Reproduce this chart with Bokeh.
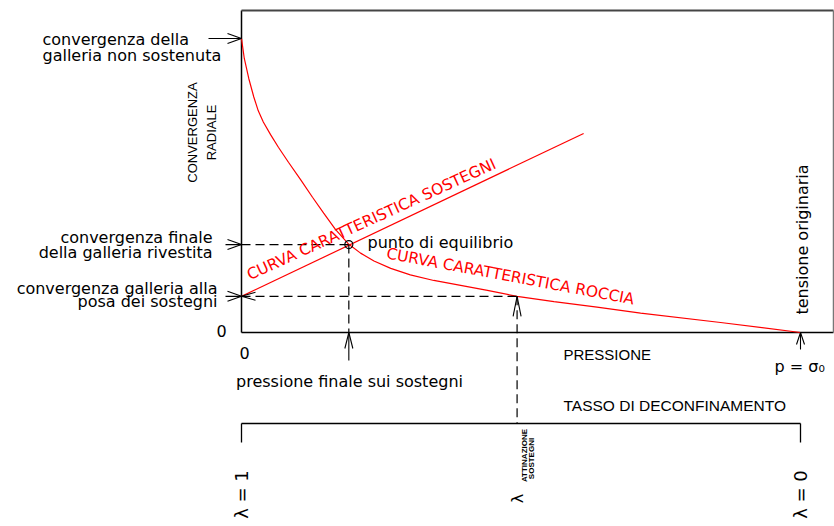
import math
from bokeh.plotting import figure
from bokeh.models import Range1d
from bokeh.core.properties import value
from bokeh.embed import file_html
from bokeh.resources import INLINE

# ---------------- data (normalised: pressure p/sigma0, convergence u/u_free) -------------
pressure_rock = [0.0, 0.005, 0.013, 0.022, 0.030, 0.039, 0.052, 0.066, 0.084, 0.106,
                 0.127, 0.147, 0.168, 0.192, 0.213, 0.237, 0.267, 0.302, 0.344, 0.392,
                 0.440, 0.493, 0.559, 0.636, 0.714, 0.857, 1.0]
convergence_rock = [1.0, 0.932, 0.864, 0.801, 0.754, 0.716, 0.673, 0.630, 0.579, 0.519,
                    0.460, 0.406, 0.351, 0.300, 0.270, 0.243, 0.218, 0.196, 0.177, 0.160,
                    0.143, 0.123, 0.105, 0.086, 0.066, 0.034, 0.0]
pressure_support = [0.0, 0.612]
convergence_support = [0.123, 0.677]
p_equilibrium = 0.192
u_equilibrium = 0.299
p_install = 0.493
u_install = 0.123
u_free = 1.0
p_sigma0 = 1.0
lambda_ticks = [1.0, 0.0]          # tasso di deconfinamento at the bracket ends
lambda_labels = ["λ = 1", "λ = 0"]

# ---------------- layout helpers (page pixels -> data) ----------------
W, H = 834, 526
SX, SY = 559.0, 294.0
OX, OY = 241.0, 332.0


def X(px):
    return (px - OX) / SX


def Y(py):
    return (OY - py) / SY


p = figure(width=W, height=H, output_backend="svg", toolbar_location=None,
           x_range=Range1d(X(0), X(W)), y_range=Range1d(Y(H), Y(0)),
           x_axis_type=None, y_axis_type=None, min_border=0,
           outline_line_color=None, background_fill_color="white",
           border_fill_color="white")
p.grid.visible = False

RED = "#ff0000"
BLK = "#000000"
DASH = "9 5"

# frame
x_right = X(833)
p.line([0, 0], [0, Y(10)], line_color=BLK, line_width=1.5)
p.line([0, x_right], [0, 0], line_color=BLK, line_width=1.5)
p.line([0, x_right], [Y(10), Y(10)], line_color="#444444", line_width=2)
p.line([x_right, x_right], [Y(10), 0], line_color="#777777", line_width=1.5)

# curves
p.line(pressure_rock, convergence_rock, line_color=RED, line_width=1.2)
p.line(pressure_support, convergence_support, line_color=RED, line_width=1.2)

# dashed construction lines
p.line([0, p_equilibrium], [u_equilibrium, u_equilibrium], line_color=BLK, line_dash=DASH, line_width=1.2)
p.line([p_equilibrium, p_equilibrium], [u_equilibrium, 0], line_color=BLK, line_dash=DASH, line_width=1.2)
p.line([0, p_install], [u_install, u_install], line_color=BLK, line_dash=DASH, line_width=1.2)
y_bracket = Y(423)
p.line([p_install, p_install], [u_install, y_bracket], line_color=BLK, line_dash=DASH, line_width=1.2)

# equilibrium point
p.scatter([p_equilibrium], [u_equilibrium], marker="circle", size=8,
          fill_color=None, line_color=BLK, line_width=1.2)

# arrows
xs, ys = [], []


def arrow(xt, yt, d, stem, hl=14, hw=4.5):
    dx, dy = d  # screen direction (x right, y down)
    px, py = -dy, dx

    def pt(a, b):
        return xt + a / SX, yt - b / SY
    if stem > 0:
        sx, sy = pt(-dx * stem, -dy * stem)
        xs.append([sx, xt]); ys.append([sy, yt])
    for s in (1, -1):
        wx, wy = pt(-dx * hl + s * px * hw, -dy * hl + s * py * hw)
        xs.append([wx, xt]); ys.append([wy, yt])


arrow(0, u_free, (1, 0), 33, 14, 5)
arrow(0, u_equilibrium, (1, 0), 16, 14, 5)
arrow(0, u_install, (1, 0), 16, 14, 5)
arrow(0, u_install, (-1, 0), 0, 14, 4)
arrow(p_equilibrium, 0, (0, -1), 28, 16, 4)
arrow(p_install, u_install, (0, -1), 0, 20, 4)
arrow(p_sigma0, 0, (0, -1), 17, 12, 4)
p.multi_line(xs, ys, line_color=BLK, line_width=1.1)

# bracket for tasso di deconfinamento (lambda = 1 - p/sigma0)
bx = [1 - l for l in lambda_ticks]
p.line([bx[0], bx[1]], [y_bracket, y_bracket], line_color=BLK, line_width=1.3)
for b in bx:
    p.line([b, b], [y_bracket, Y(442)], line_color=BLK, line_width=1.3)


# texts
def T(txt, xp, yp, size=16, align="left", angle=0.0, color=BLK,
      font="DejaVu Sans", style="normal", xdata=None, ydata=None):
    xx = X(xp) if xdata is None else xdata
    yy = Y(yp) if ydata is None else ydata
    p.text([xx], [yy], text=[txt], text_align=align, text_baseline="middle",
           angle=angle, text_color=color, text_font=value(font),
           text_font_size=value(f"{size}px"), text_font_style=style)


T("convergenza della", 42, 39)
T("galleria non sostenuta", 42, 55)
T("convergenza finale", 212, 237, align="right")
T("della galleria rivestita", 212, 252, align="right")
T("convergenza galleria alla", 217, 288, align="right")
T("posa dei sostegni", 217, 301, align="right")
T("0", 221, 330, align="center")
T("0", 244, 352, align="center")
T("pressione finale sui sostegni", 349, 381, align="center")
T("PRESSIONE", 563, 354, size=15, font="Liberation Sans")
T("p = σ₀", 774, 366)
T("tensione originaria", 802, 239, align="center", angle=math.pi / 2)
T("punto di equilibrio", 367, 242)
T("CURVA CARATTERISTICA SOSTEGNI", 371, 219, size=15.5, align="center",
  angle=math.radians(24.5), color=RED)
T("CURVA CARATTERISTICA ROCCIA", 510, 276, size=15.5, align="center",
  angle=math.radians(-10.6), color=RED)
T("CONVERGENZA", 192, 132, size=13, align="center", angle=math.pi / 2, font="Liberation Sans")
T("RADIALE", 211, 132, size=13, align="center", angle=math.pi / 2, font="Liberation Sans")
T("TASSO DI DECONFINAMENTO", 563, 405, size=15.5, font="Liberation Sans")
for b, lab in zip(bx, lambda_labels):
    T(lab, 0, 494, size=18, align="center", angle=math.pi / 2, xdata=b)
T("λ", 0, 498, size=16, align="center", angle=math.pi / 2, xdata=p_install)
T("ATTINAZIONE", 524, 455, size=8, align="center", angle=math.pi / 2,
  font="Liberation Sans", style="bold")
T("SOSTEGNI", 531, 458, size=8, align="center", angle=math.pi / 2,
  font="Liberation Sans", style="bold")

open("out.html", "w").write(file_html(p, INLINE))
